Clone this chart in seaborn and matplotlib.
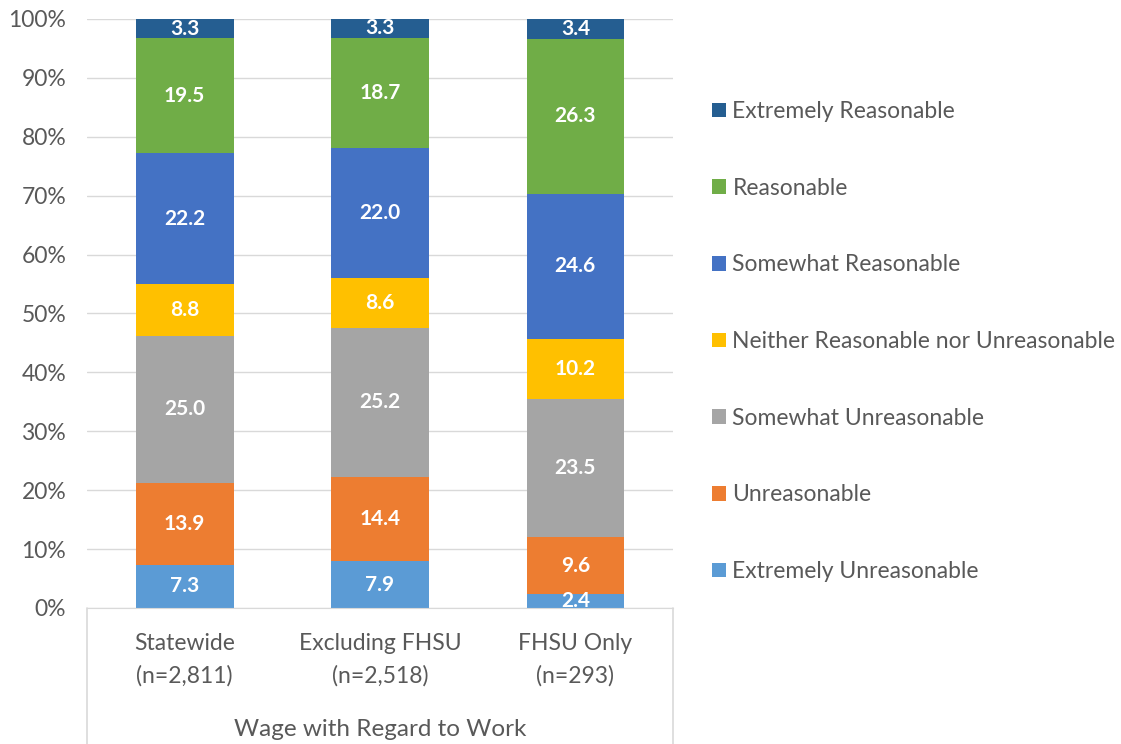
import pandas as pd
import numpy as np
import matplotlib
matplotlib.use("Agg")
import matplotlib.pyplot as plt
import seaborn as sns
from matplotlib.ticker import FuncFormatter
from matplotlib.patches import Patch

# ---- data ----
groups = ["Statewide\n(n=2,811)", "Excluding FHSU\n(n=2,518)", "FHSU Only\n(n=293)"]
responses = ["Extremely Unreasonable", "Unreasonable", "Somewhat Unreasonable",
             "Neither Reasonable nor Unreasonable", "Somewhat Reasonable",
             "Reasonable", "Extremely Reasonable"]
extremely_unreasonable = [7.3, 7.9, 2.4]
unreasonable = [13.9, 14.4, 9.6]
somewhat_unreasonable = [25.0, 25.2, 23.5]
neither = [8.8, 8.6, 10.2]
somewhat_reasonable = [22.2, 22.0, 24.6]
reasonable = [19.5, 18.7, 26.3]
extremely_reasonable = [3.3, 3.3, 3.4]
colors = ["#5B9BD5", "#ED7D31", "#A5A5A5", "#FFC000", "#4472C4", "#70AD47", "#255E91"]
group_title = "Wage with Regard to Work"

series = [extremely_unreasonable, unreasonable, somewhat_unreasonable, neither,
          somewhat_reasonable, reasonable, extremely_reasonable]
df = pd.DataFrame({"group": np.repeat([groups], len(responses), axis=0).ravel(),
                   "response": np.repeat(responses, len(groups)),
                   "value": np.concatenate(series)})

sns.set_style("white")
plt.rcParams["font.family"] = ["Lato", "DejaVu Sans"]
grey = "#595959"

fig = plt.figure(figsize=(11.21, 7.44), dpi=100)
ax = fig.add_axes([0.0776, 0.1828, 0.5228, 0.7917])

bottom = np.zeros(len(groups))
for resp, col in zip(responses, colors):
    sub = df[df["response"] == resp]
    vals = sub["value"].to_numpy()
    sns.barplot(data=sub, x="group", y="value", order=groups, color=col,
                saturation=1, width=0.5, bottom=bottom, ax=ax, zorder=3, linewidth=0)
    for i, v in enumerate(vals):
        ax.text(i, bottom[i] + v / 2, f"{v:.1f}", ha="center", va="center",
                color="white", fontsize=15, fontweight="bold", zorder=4)
    bottom = bottom + vals

ax.set_ylim(0, 100)
ax.set_xlim(-0.5, 2.5)
ax.set_yticks(np.arange(0, 101, 10))
ax.yaxis.set_major_formatter(FuncFormatter(lambda v, p: f"{v:.0f}%"))
ax.grid(axis="y", color="#D9D9D9", linewidth=1, zorder=0)
for s in ["top", "right", "left"]:
    ax.spines[s].set_visible(False)
ax.spines["bottom"].set_color("#D9D9D9")
ax.spines["bottom"].set_zorder(5)
ax.tick_params(axis="y", length=0, pad=15, labelsize=16.5, labelcolor=grey)
ax.tick_params(axis="x", length=0, pad=18, labelsize=16.5, labelcolor=grey)
ax.set_xlabel("")
ax.set_ylabel("")
for lab in ax.get_xticklabels():
    lab.set_linespacing(1.65)

# category box below the axis
for xpos in [0, 1]:
    ax.plot([xpos, xpos], [0, -0.3], transform=ax.transAxes, color="#D9D9D9",
            linewidth=1.2, clip_on=False, zorder=5)
ax.text(0.5, -0.207, group_title, transform=ax.transAxes, ha="center", va="center",
        fontsize=17.5, color=grey)

# legend, top item first
handles = [Patch(facecolor=c, edgecolor="none") for c in colors[::-1]]
fig.legend(handles, responses[::-1], loc="upper left", bbox_to_anchor=(0.617, 0.892),
           frameon=False, fontsize=16.5, labelcolor=grey, handlelength=0.6,
           handleheight=0.6, handletextpad=0.28, labelspacing=2.43)

fig.savefig("out.png", dpi=100)
